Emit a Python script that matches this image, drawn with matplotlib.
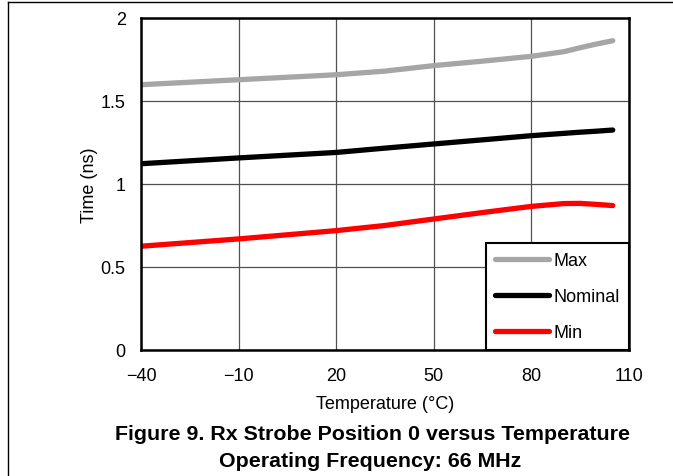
import matplotlib
matplotlib.use("Agg")
import matplotlib.pyplot as plt
from matplotlib.lines import Line2D

plt.rcParams['font.family'] = ['Liberation Sans', 'DejaVu Sans']

# temperature points
temp = [-40, -10, 20, 35, 50, 65, 80, 90, 95, 100, 105]
t_max = [1.598, 1.628, 1.658, 1.680, 1.713, 1.740, 1.769, 1.797, 1.821, 1.843, 1.863]
t_nom = [1.122, 1.157, 1.190, 1.216, 1.241, 1.266, 1.291, 1.305, 1.312, 1.318, 1.325]
t_min = [0.625, 0.669, 0.719, 0.750, 0.789, 0.828, 0.865, 0.882, 0.883, 0.877, 0.870]

xticks = [-40, -10, 20, 50, 80, 110]
xticklabels = ["\u221240", "\u221210", "20", "50", "80", "110"]
yticks = [0, 0.5, 1, 1.5, 2]
yticklabels = ["0", "0.5", "1", "1.5", "2"]

fig = plt.figure(figsize=(6.73, 4.77), dpi=100)
ax = fig.add_axes([0.2095, 0.2642, 0.7251, 0.696])

ax.plot(temp, t_max, color="#a6a6a6", lw=3.8, solid_capstyle="round", label="Max")
ax.plot(temp, t_nom, color="black", lw=3.8, solid_capstyle="round", label="Nominal")
ax.plot(temp, t_min, color="#ff0000", lw=3.8, solid_capstyle="round", label="Min")

ax.set_xlim(-40, 110)
ax.set_ylim(0, 2)
ax.set_xticks(xticks)
ax.set_xticklabels(xticklabels)
ax.set_yticks(yticks)
ax.set_yticklabels(yticklabels)
ax.tick_params(length=0, labelsize=13)
ax.tick_params(axis="y", pad=11)
ax.tick_params(axis="x", pad=12)
ax.grid(True, color="#505050", lw=0.9)
ax.set_axisbelow(True)
for s in ax.spines.values():
    s.set_linewidth(1.8)
    s.set_color("black")

ax.set_xlabel("Temperature (\u00b0C)", fontsize=13, labelpad=8)
ax.set_ylabel("Time (ns)", fontsize=13, labelpad=2)

leg = ax.legend(loc="lower right", bbox_to_anchor=(1, 0), borderaxespad=0,
                fontsize=13, handlelength=3.0, handletextpad=0.25,
                labelspacing=1.05, borderpad=0.5, fancybox=False,
                framealpha=1, edgecolor="black")
leg.get_frame().set_linewidth(1.5)

fig.text(0.553, 1 - 435 / 477, "Figure 9. Rx Strobe Position 0 versus Temperature",
         ha="center", va="center", fontsize=15.4, fontweight="bold")
fig.text(0.55, 1 - 462 / 477, "Operating Frequency: 66 MHz",
         ha="center", va="center", fontsize=15.4, fontweight="bold")

# page frame
fig.add_artist(Line2D([8 / 673, 8 / 673], [0, 1 - 3 / 477], color="black", lw=1))
fig.add_artist(Line2D([8 / 673, 1], [1 - 3 / 477, 1 - 3 / 477], color="black", lw=1))

fig.savefig("out.png", dpi=100)
